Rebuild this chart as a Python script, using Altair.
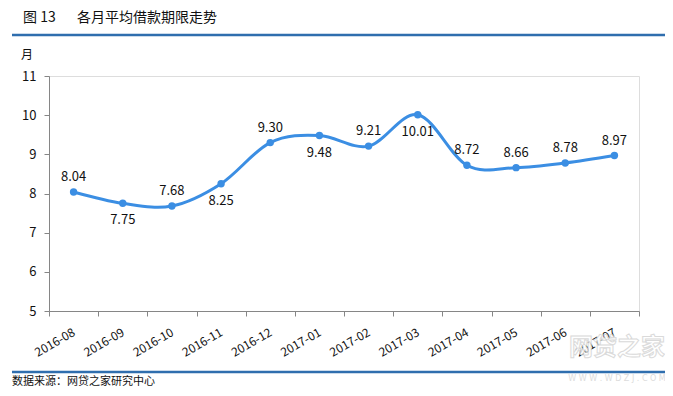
import altair as alt
import pandas as pd

months = ["2016-08", "2016-09", "2016-10", "2016-11", "2016-12", "2017-01",
          "2017-02", "2017-03", "2017-04", "2017-05", "2017-06", "2017-07"]
values = [8.04, 7.75, 7.68, 8.25, 9.30, 9.48, 9.21, 10.01, 8.72, 8.66, 8.78, 8.97]
label_side = ["above", "below", "above", "below", "above", "below",
              "above", "below", "above", "above", "above", "above"]
y_ticks = [5, 6, 7, 8, 9, 10, 11]

fig_no = "图 13"
title_text = "各月平均借款期限走势"
unit_text = "月"
source_text = "数据来源：网贷之家研究中心"
wm_cn = "网贷之家"
wm_en = "W W W . W D Z J . C O M"

df = pd.DataFrame({
    "month": months,
    "value": values,
    "side": label_side,
    "label": [f"{v:.2f}" for v in values],
})

W, H = 590, 235
FONT = "Noto Sans CJK SC"
LINE = "#3b8ee3"
AXIS = "#868686"
RULE = "#2f6eae"

x = alt.X("month:N", sort=months, title=None,
          scale=alt.Scale(type="band", paddingInner=0, paddingOuter=0),
          axis=alt.Axis(labelAngle=-30, labelAlign="right", labelBaseline="middle",
                        labelPadding=15, tickBand="extent", tickSize=5,
                        domainColor=AXIS, tickColor=AXIS, labelColor="#111111",
                        labelFontSize=12, labelFont=FONT, grid=False))
y = alt.Y("value:Q", title=None,
          scale=alt.Scale(domain=[5, 11], nice=False, zero=False),
          axis=alt.Axis(values=y_ticks, tickSize=5, labelPadding=8,
                        domainColor=AXIS, tickColor=AXIS, labelColor="#111111",
                        labelFontSize=13, labelFont=FONT, grid=False))

base = alt.Chart(df)
line = base.mark_line(color=LINE, strokeWidth=3, interpolate="cardinal").encode(x=x, y=y)
pts = base.mark_point(color=LINE, filled=True, opacity=1, size=55).encode(x=x, y=y)
lab_above = base.transform_filter(alt.datum.side == "above").mark_text(
    dy=-15, font=FONT, fontSize=13, color="#111111").encode(x=x, y=y, text="label:N")
lab_below = base.transform_filter(alt.datum.side == "below").mark_text(
    dy=17, font=FONT, fontSize=13, color="#111111").encode(x=x, y=y, text="label:N")

one = alt.Chart(pd.DataFrame({"f": [fig_no], "t": [title_text], "u": [unit_text],
                              "s": [source_text], "w1": [wm_cn], "w2": [wm_en]}))
fig = one.mark_text(align="left", baseline="middle", font=FONT, fontSize=14,
                    color="#111111").encode(x=alt.value(-26), y=alt.value(-58), text="f:N")
title = one.mark_text(align="left", baseline="middle", font=FONT, fontSize=14,
                      color="#111111").encode(x=alt.value(28), y=alt.value(-58), text="t:N")
unit = one.mark_text(align="left", baseline="middle", font=FONT, fontSize=12,
                     color="#111111").encode(x=alt.value(-28), y=alt.value(-21), text="u:N")
top_rule = one.mark_rule(color=RULE, strokeWidth=2.5).encode(
    x=alt.value(-37), x2=alt.value(616), y=alt.value(-41))
bot_rule = one.mark_rule(color=RULE, strokeWidth=2.5).encode(
    x=alt.value(-37), x2=alt.value(616), y=alt.value(296))
source = one.mark_text(align="left", baseline="middle", font=FONT, fontSize=11,
                       color="#111111").encode(x=alt.value(-37), y=alt.value(306), text="s:N")
wm1 = one.mark_text(align="center", baseline="middle", font=FONT, fontSize=24,
                    fontWeight="bold", color="#ffffff", opacity=0.85,
                    stroke="#d4d4d4", strokeWidth=1).encode(
    x=alt.value(568), y=alt.value(272), text="w1:N")
wm2 = one.mark_text(align="center", baseline="middle", font="DejaVu Sans", fontSize=8,
                    color="#dcdcdc").encode(x=alt.value(568), y=alt.value(303), text="w2:N")

chart = alt.layer(line, pts, lab_above, lab_below, fig, title, unit,
                  top_rule, bot_rule, source, wm1, wm2).properties(
    width=W, height=H,
    autosize=alt.AutoSizeParams(type="none"),
    padding={"left": 41, "top": 68, "right": 26, "bottom": 77},
).configure_view(stroke=None).configure(background="white")

chart.save("out.html", embed_options={"renderer": "svg", "actions": False})
